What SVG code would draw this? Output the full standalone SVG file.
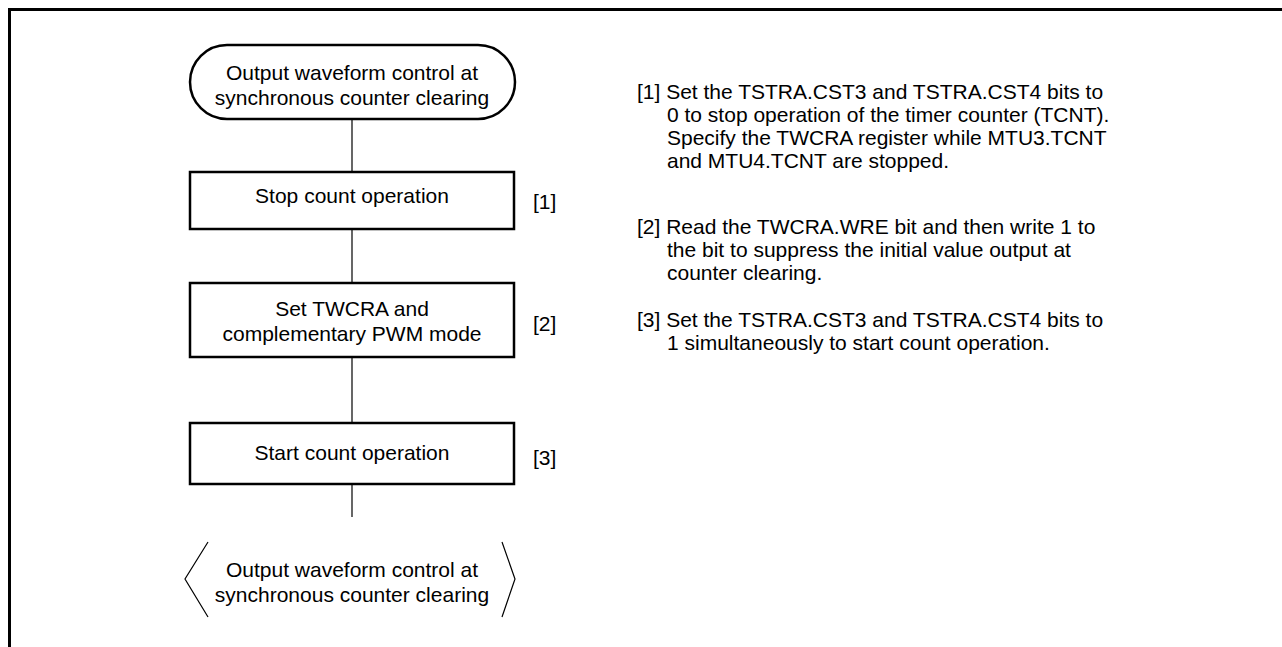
<svg xmlns="http://www.w3.org/2000/svg" width="1282" height="647" viewBox="0 0 1282 647">
<style>
text{font-family:"Liberation Sans",Arial,sans-serif;font-size:21px;fill:#000}
.c{text-anchor:middle}
.box{fill:#fff;stroke:#000;stroke-width:2.5}
.ln{stroke:#000;stroke-width:1.2;fill:none}
.br{stroke:#000;stroke-width:1.2;fill:none}
</style>
<rect width="1282" height="647" fill="#fff"/>
<path d="M9.5,647 V9.5 H1282" fill="none" stroke="#000" stroke-width="3"/>
<g id="connectors">
<line class="ln" x1="352" y1="119" x2="352" y2="172"/>
<line class="ln" x1="352" y1="229" x2="352" y2="283"/>
<line class="ln" x1="352" y1="357" x2="352" y2="423"/>
<line class="ln" x1="352" y1="484" x2="352" y2="517"/>
</g>
<g id="start">
<rect class="box" x="190" y="45" width="325" height="74" rx="37" ry="37"/>
<text class="c" x="352" y="80">Output waveform control at</text>
<text class="c" x="352" y="105">synchronous counter clearing</text>
</g>
<g id="step1">
<rect class="box" x="190" y="172" width="324" height="57"/>
<text class="c" x="352" y="203">Stop count operation</text>
<text x="533" y="209">[1]</text>
</g>
<g id="step2">
<rect class="box" x="190" y="283" width="324" height="74"/>
<text class="c" x="352" y="316">Set TWCRA and</text>
<text class="c" x="352" y="341">complementary PWM mode</text>
<text x="533" y="331">[2]</text>
</g>
<g id="step3">
<rect class="box" x="190" y="423" width="324" height="61"/>
<text class="c" x="352" y="460">Start count operation</text>
<text x="533" y="465">[3]</text>
</g>
<g id="end">
<path class="br" d="M208,542 L185,579 L208,617"/>
<path class="br" d="M502,542 L515,579 L502,617"/>
<text class="c" x="352" y="577">Output waveform control at</text>
<text class="c" x="352" y="602">synchronous counter clearing</text>
</g>
<g id="notes">
<text x="637" y="99">[1] Set the TSTRA.CST3 and TSTRA.CST4 bits to</text>
<text x="667" y="122">0 to stop operation of the timer counter (TCNT).</text>
<text x="667" y="145">Specify the TWCRA register while MTU3.TCNT</text>
<text x="667" y="168">and MTU4.TCNT are stopped.</text>
<text x="637" y="234">[2] Read the TWCRA.WRE bit and then write 1 to</text>
<text x="667" y="257">the bit to suppress the initial value output at</text>
<text x="667" y="280">counter clearing.</text>
<text x="637" y="327">[3] Set the TSTRA.CST3 and TSTRA.CST4 bits to</text>
<text x="667" y="350">1 simultaneously to start count operation.</text>
</g>
</svg>
